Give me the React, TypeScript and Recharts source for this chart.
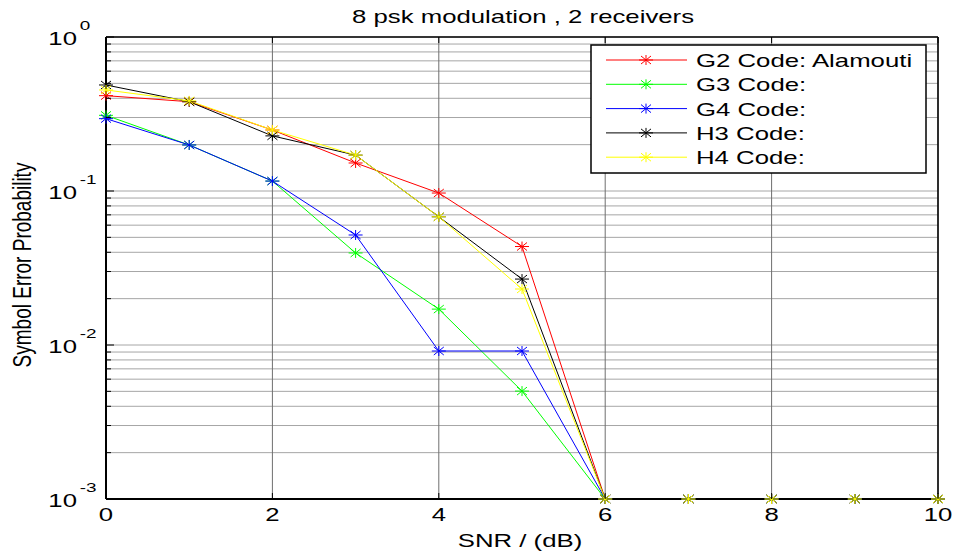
import React from "react";
import { LineChart, Line, XAxis, YAxis, CartesianGrid, Legend, Label } from "recharts";

// values
const snr = [0, 1, 2, 3, 4, 5, 6, 7, 8, 9, 10];
const g2Code = [0.416, 0.38, 0.249, 0.152, 0.097, 0.0436, 0.001, 0.001, 0.001, 0.001, 0.001];
const g3Code = [0.31, 0.199, 0.116, 0.0396, 0.0171, 0.00502, 0.001, 0.001, 0.001, 0.001, 0.001];
const g4Code = [0.295, 0.199, 0.116, 0.0518, 0.00914, 0.00914, 0.001, 0.001, 0.001, 0.001, 0.001];
const h3Code = [0.488, 0.38, 0.228, 0.171, 0.068, 0.0268, 0.001, 0.001, 0.001, 0.001, 0.001];
const h4Code = [0.453, 0.385, 0.249, 0.171, 0.068, 0.0231, 0.001, 0.001, 0.001, 0.001, 0.001];

const seriesNames = ["G2 Code: Alamouti", "G3 Code:", "G4 Code:", "H3 Code:", "H4 Code:"];
const seriesKeys = ["g2", "g3", "g4", "h3", "h4"];
const seriesColors = ["#ff0000", "#00ff00", "#0000ff", "#000000", "#ffff00"];

const xTicks = [0, 2, 4, 6, 8, 10];
const yTicks = [
  0.001, 0.002, 0.003, 0.004, 0.005, 0.006, 0.007, 0.008, 0.009,
  0.01, 0.02, 0.03, 0.04, 0.05, 0.06, 0.07, 0.08, 0.09,
  0.1, 0.2, 0.3, 0.4, 0.5, 0.6, 0.7, 0.8, 0.9, 1,
];

const data = snr.map((s, i) => ({
  snr: s,
  g2: g2Code[i],
  g3: g3Code[i],
  g4: g4Code[i],
  h3: h3Code[i],
  h4: h4Code[i],
}));

const FONT = "'Liberation Sans', Arial, Helvetica, sans-serif";
const STRETCH = 1.4; // the original figure's text is stretched sideways

const isDecade = (v: number) => Math.abs(Math.log10(v) - Math.round(Math.log10(v))) < 1e-6;

// matlab style '*' marker
const Asterisk = ({ cx, cy, color }: any) => {
  if (cx == null || cy == null) return <g />;
  return (
    <g stroke={color} strokeWidth={1}>
      <line x1={cx - 7} x2={cx + 7} y1={cy} y2={cy} />
      <line x1={cx} x2={cx} y1={cy - 5} y2={cy + 5} />
      <line x1={cx - 5} x2={cx + 5} y1={cy - 4} y2={cy + 4} />
      <line x1={cx - 5} x2={cx + 5} y1={cy + 4} y2={cy - 4} />
    </g>
  );
};

const LeftTick = (props: any) => {
  const { x, y, payload } = props;
  const v = payload.value;
  const axisX = x + 29;
  const major = isDecade(v);
  return (
    <g>
      <line x1={axisX} x2={axisX + (major ? 8 : 5)} y1={y} y2={y} stroke="#000" />
      {major && (
        <g transform={`translate(${x},${y}) scale(${STRETCH},1)`} fontFamily={FONT} fill="#000">
          <text x={0} y={8} textAnchor="end" fontSize={18.4}>10</text>
          <text x={2} y={-7.5} textAnchor="start" fontSize={13.5}>
            {String(Math.round(Math.log10(v)))}
          </text>
        </g>
      )}
    </g>
  );
};

const RightTick = (props: any) => {
  const { x, y, payload } = props;
  const major = isDecade(payload.value);
  return <line x1={x} x2={x - (major ? 8 : 5)} y1={y} y2={y} stroke="#000" />;
};

const BottomTick = (props: any) => {
  const { x, y, payload } = props;
  return (
    <g>
      <line x1={x} x2={x} y1={y - 22} y2={y - 28} stroke="#000" />
      <text
        transform={`translate(${x},${y}) scale(${STRETCH},1)`}
        textAnchor="middle"
        fontSize={18.4}
        fontFamily={FONT}
        fill="#000"
      >
        {payload.value}
      </text>
    </g>
  );
};

const TopTick = (props: any) => {
  const { x, y } = props;
  return <line x1={x} x2={x} y1={y} y2={y + 6} stroke="#000" />;
};

const LegendBox = () => (
  <svg width={337} height={130} style={{ display: "block" }}>
    <rect x={1} y={1} width={335} height={128} fill="#fff" stroke="#000" strokeWidth={1.5} />
    {seriesNames.map((name, i) => {
      const cy = 16 + i * 24.3;
      return (
        <g key={name}>
          <line x1={16} x2={97} y1={cy} y2={cy} stroke={seriesColors[i]} strokeWidth={1} />
          <Asterisk cx={56} cy={cy} color={seriesColors[i]} />
          <text
            transform={`translate(106,${cy + 7}) scale(${STRETCH},1)`}
            fontSize={18.4}
            fontFamily={FONT}
            fill="#000"
          >
            {name}
          </text>
        </g>
      );
    })}
  </svg>
);

export default function App() {
  return (
    <div style={{ position: "absolute", left: 0, top: 0, background: "#fff" }}>
      <LineChart
        width={953}
        height={554}
        data={data}
        margin={{ top: 36, right: 14, bottom: 15, left: 0 }}
      >
        <CartesianGrid horizontal={true} vertical={false} stroke="#a6a6a6" strokeWidth={1} />
        <CartesianGrid horizontal={false} vertical={true} stroke="#6e6e6e" strokeWidth={1} />
        <XAxis
          dataKey="snr"
          type="number"
          domain={[0, 10]}
          ticks={xTicks}
          height={40}
          tickSize={0}
          tickMargin={22}
          tickLine={false}
          tick={BottomTick}
          axisLine={{ stroke: "#000", strokeWidth: 2 }}
        >
          <Label
            content={(p: any) => {
              const vb = p.viewBox;
              return (
                <text
                  transform={`translate(${vb.x + vb.width / 2 - 2},${vb.y + 48}) scale(${STRETCH},1)`}
                  textAnchor="middle"
                  fontSize={18.4}
                  fontFamily={FONT}
                  fill="#000"
                >
                  SNR / (dB)
                </text>
              );
            }}
          />
        </XAxis>
        <XAxis
          xAxisId="top"
          orientation="top"
          dataKey="snr"
          type="number"
          domain={[0, 10]}
          ticks={xTicks}
          height={1}
          tickSize={0}
          tickMargin={0}
          tickLine={false}
          tick={TopTick}
          axisLine={{ stroke: "#000", strokeWidth: 1.5 }}
        />
        <YAxis
          scale="log"
          type="number"
          domain={[0.001, 1]}
          ticks={yTicks}
          width={106}
          tickSize={0}
          tickMargin={29}
          tickLine={false}
          tick={LeftTick}
          interval={0}
          axisLine={{ stroke: "#000", strokeWidth: 2 }}
        >
          <Label
            content={(p: any) => {
              const vb = p.viewBox;
              return (
                <text
                  transform={`translate(31,${vb.y + vb.height / 2 - 3}) scale(${STRETCH},1) rotate(-90)`}
                  textAnchor="middle"
                  fontSize={19}
                  fontFamily={FONT}
                  fill="#000"
                >
                  Symbol Error Probability
                </text>
              );
            }}
          />
        </YAxis>
        <YAxis
          yAxisId="right"
          orientation="right"
          scale="log"
          type="number"
          domain={[0.001, 1]}
          ticks={yTicks}
          width={1}
          tickSize={0}
          tickMargin={0}
          tickLine={false}
          tick={RightTick}
          interval={0}
          axisLine={{ stroke: "#000", strokeWidth: 1.5 }}
        />
        <Legend
          layout="vertical"
          align="center"
          verticalAlign="middle"
          content={() => <LegendBox />}
          wrapperStyle={{ position: "absolute", left: 590, top: 44, width: 337, height: 130 }}
        />
        {seriesKeys.map((key, i) => (
          <Line
            key={key}
            dataKey={key}
            name={seriesNames[i]}
            type="linear"
            stroke={seriesColors[i]}
            strokeWidth={1}
            isAnimationActive={false}
            activeDot={false}
            dot={(p: any) => (
              <Asterisk key={`${key}-${p.index}`} cx={p.cx} cy={p.cy} color={seriesColors[i]} />
            )}
          />
        ))}
        <text
          transform={`translate(523,23) scale(${STRETCH},1)`}
          textAnchor="middle"
          fontSize={18.4}
          fontFamily={FONT}
          fill="#000"
        >
          8 psk modulation , 2 receivers
        </text>
      </LineChart>
    </div>
  );
}
